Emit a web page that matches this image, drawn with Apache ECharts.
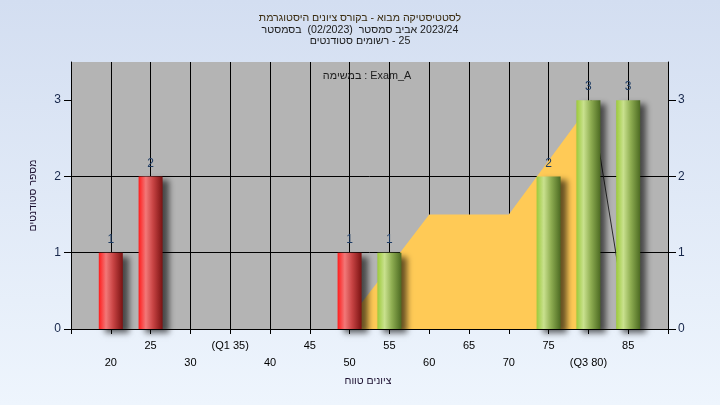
<!DOCTYPE html>
<html><head><meta charset="utf-8">
<script src="https://cdn.jsdelivr.net/npm/echarts@6/dist/echarts.min.js"></script>
<style>
html,body{margin:0;padding:0;width:720px;height:405px;overflow:hidden;background:linear-gradient(#d3def1,#eef5fd);}
#c{width:720px;height:405px;}
</style></head>
<body><div id="c"></div>
<script>
// ---- data ----
const titleLines = ['היסטוגרמת ציונים בקורס - מבוא לסטטיסטיקה', 'בסמסטר  (02/2023)  סמסטר אביב 2023/24', 'סטודנטים רשומים - 25'];
const legendText = 'במשימה : Exam_A';
const xName = 'טווח ציונים';
const yName = 'מספר סטודנטים';
const binX = [20, 25, 50, 55, 75, 80, 85];
const binCount = [1, 2, 1, 1, 2, 3, 3];
const passMark = 55;
const xTickLabels = {20:'20',25:'25',30:'30',35:'(Q1 35)',40:'40',45:'45',50:'50',55:'55',60:'60',65:'65',70:'70',75:'75',80:'(Q3 80)',85:'85'};
const yTicks = [0, 1, 2, 3];
const areaX = [49, 60, 70, 80.6, 80.6];
const areaY = [0, 1.5, 1.5, 3.0, 0];
const lineX = [80.33, 85];
const lineY = [3, 0];

const FONT = "'Liberation Sans', Arial, 'DejaVu Sans', sans-serif";
// words shown left-to-right in reading order, as in the original picture
const ltrWords = s => s.split(' ').map(w => '\u200E' + w).join(' ');

const redGrad = {type:'linear',x:0,y:0,x2:1,y2:0,colorStops:[
  {offset:0,color:'#ff1c1c'},{offset:0.3,color:'#f27878'},{offset:0.6,color:'#c84444'},{offset:1,color:'#7a1212'}]};
const greenGrad = {type:'linear',x:0,y:0,x2:1,y2:0,colorStops:[
  {offset:0,color:'#9cca3a'},{offset:0.3,color:'#c9e18e'},{offset:0.6,color:'#8fae52'},{offset:1,color:'#4c6a22'}]};

const barData = binX.map((x,i) => ({value:[x, binCount[i]], itemStyle:{color: x < passMark ? redGrad : greenGrad}}));
const areaData = areaX.map((x,i) => [x, areaY[i]]);
const lineData = lineX.map((x,i) => [x, lineY[i]]);
const titleColors = ['#3a2c10', '#1a1a1a', '#1a1a1a'];
const titleY = [18.5, 30, 41.5];

const chart = echarts.init(document.getElementById('c'), null, {renderer:'canvas'});
chart.setOption({
  backgroundColor: 'transparent',
  textStyle: {fontFamily: FONT},
  animation: false,
  graphic: titleLines.map((t, i) => ({
    type: 'text', x: 360, y: titleY[i], z: 10,
    style: {text: ltrWords(t), font: '10.6px ' + FONT, fill: titleColors[i], align: 'center', verticalAlign: 'middle'}
  })).concat([{
    type: 'text', x: 367, y: 76, z: 10,
    style: {text: legendText, font: '10.8px ' + FONT, fill: '#1c1c1c', align: 'center', verticalAlign: 'middle'}
  }, {
    type: 'text', x: 368, y: 381, z: 10,
    style: {text: ltrWords(xName), font: '10.5px ' + FONT, fill: '#1c1030', align: 'center', verticalAlign: 'middle'}
  }]),
  grid: {left: 71, right: 52, top: 62, bottom: 76, show: true, backgroundColor: '#b4b4b4', borderWidth: 0},
  xAxis: {
    type: 'value', min: 15, max: 90, interval: 5,
    axisLine: {show: true, lineStyle: {color: '#000', width: 1}},
    axisTick: {show: true, length: 5, lineStyle: {color: '#000'}},
    axisLabel: {
      margin: 8, fontSize: 11, color: '#000', lineHeight: 17,
      formatter: v => { const t = xTickLabels[v]; if (!t) return ''; return (v % 10 === 0) ? '\n' + t : t; }
    },
    splitLine: {show: true, lineStyle: {color: '#000', width: 1}}
  },
  yAxis: [{
    type: 'value', min: 0, max: 3.5, interval: 1, position: 'left',
    name: yName, nameLocation: 'middle', nameGap: 32,
    nameTextStyle: {fontSize: 10.5, color: '#1c1030', fontFamily: FONT},
    axisLine: {show: true, lineStyle: {color: '#000', width: 1}},
    axisTick: {show: true, length: 7, customValues: yTicks, lineStyle: {color: '#000'}},
    axisLabel: {margin: 10, fontSize: 12, color: '#16264a', customValues: yTicks},
    splitLine: {show: true, showMaxLine: false, lineStyle: {color: '#000', width: 1}}
  }, {
    type: 'value', min: 0, max: 3.5, interval: 1, position: 'right',
    axisLine: {show: true, lineStyle: {color: '#000', width: 1}},
    axisTick: {show: true, length: 8, customValues: yTicks, lineStyle: {color: '#000'}},
    axisLabel: {margin: 10, fontSize: 12, color: '#16264a', customValues: yTicks},
    splitLine: {show: false}
  }],
  series: [{
    type: 'line', data: areaData, symbol: 'none', z: 1, silent: true,
    lineStyle: {width: 0}, areaStyle: {color: '#ffca56', opacity: 1}
  }, {
    type: 'line', data: lineData, symbol: 'none', z: 1, silent: true,
    lineStyle: {width: 1, color: '#2a2a2a'}
  }, {
    type: 'bar', data: barData, barWidth: 24, z: 3, clip: false,
    itemStyle: {shadowBlur: 6, shadowOffsetX: 6, shadowOffsetY: 4, shadowColor: 'rgba(0,0,0,0.6)'},
    label: {show: true, position: 'top', distance: 7, fontSize: 12, color: '#1e3c64', formatter: p => p.value[1]}
  }]
});
</script></body></html>
